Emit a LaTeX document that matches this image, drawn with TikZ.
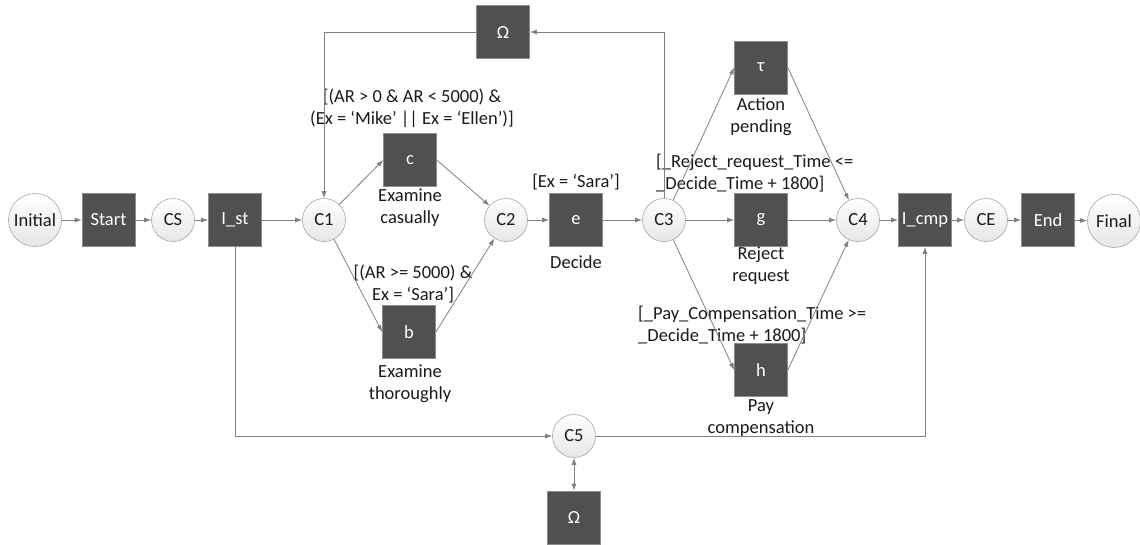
\documentclass[tikz,border=0pt]{standalone}
\usepackage{fontspec}
\setmainfont{Carlito}
\usetikzlibrary{arrows.meta}
\definecolor{boxfill}{HTML}{505050}
\definecolor{boxedge}{HTML}{8C8C8C}
\definecolor{circedge}{HTML}{A6A6A6}
\definecolor{circlow}{HTML}{E6E6E6}
\definecolor{arcgray}{HTML}{808080}
\definecolor{txt}{HTML}{1A1A1A}
\begin{document}
\begin{tikzpicture}[x=1pt,y=-1pt,
  every node/.style={font=\fontsize{18.5}{22}\selectfont},
  trans/.style={rectangle,fill=boxfill,draw=boxedge,line width=0.6pt,
    minimum width=53pt,minimum height=53pt,inner sep=0pt,text=white},
  place/.style={circle,draw=circedge,line width=0.6pt,top color=white,
    bottom color=circlow,minimum size=43pt,inner sep=0pt,text=txt},
  bigplace/.style={place,minimum size=53pt},
  lbl/.style={text=txt,align=center,inner sep=0pt},
  lbll/.style={text=txt,align=left,inner sep=0pt,anchor=west},
  arc/.style={draw=arcgray,line width=0.8pt,-{Latex[length=7pt,width=5pt]}},
  darc/.style={draw=arcgray,line width=0.8pt,{Latex[length=7pt,width=5pt]}-{Latex[length=7pt,width=5pt]}}
]
\useasboundingbox (0,0) rectangle (1140,544);

% main row
\node[bigplace] (init) at (35,220) {Initial};
\node[trans] (start) at (108.5,220) {Start};
\node[place] (cs) at (173,220) {CS};
\node[trans] (ist) at (235,220) {I\_st};
\node[place] (c1) at (324,220) {C1};
\node[trans] (c) at (410,160) {c};
\node[trans] (b) at (409,332) {b};
\node[place] (c2) at (506,220) {C2};
\node[trans] (e) at (576,220) {e};
\node[place] (c3) at (664,220) {C3};
\node[trans] (tau) at (761,67.5) {τ};
\node[trans] (g) at (761,220) {g};
\node[trans] (h) at (761,370) {h};
\node[place] (c4) at (858,220) {C4};
\node[trans] (icmp) at (925,220) {I\_cmp};
\node[place] (ce) at (986,220) {CE};
\node[trans] (end) at (1048,220) {End};
\node[bigplace] (final) at (1114,221) {Final};
\node[trans] (omtop) at (503,32) {Ω};
\node[place] (c5) at (574,436) {C5};
\node[trans] (ombot) at (574,517.5) {Ω};

% labels
\node[lbl] (lc) at (410,208) {Examine\\casually};
\node[lbl] (lb) at (410,384) {Examine\\thoroughly};
\node[lbl] (le) at (576,262) {Decide};
\node[lbl] (ltau) at (761,117) {Action\\pending};
\node[lbl] (lg) at (761,266) {Reject\\request};
\node[lbl] (lh) at (761,418) {Pay\\compensation};
\node[lbl] (gc) at (412,108) {[(AR > 0 \& AR < 5000) \&\\(Ex = ‘Mike’ || Ex = ‘Ellen’)]};
\node[lbl] (gb) at (413,284) {[(AR >= 5000) \&\\Ex = ‘Sara’]};
\node[lbl] (ge) at (576,182) {[Ex = ‘Sara’]};
\node[lbll] (gg) at (656,173) {[\_Reject\_request\_Time <=\\\_Decide\_Time + 1800]};
\node[lbll] (gh) at (638,325) {[\_Pay\_Compensation\_Time >=\\\_Decide\_Time + 1800]};

% arcs
\draw[arc] (init) -- (start);
\draw[arc] (start) -- (cs);
\draw[arc] (cs) -- (ist);
\draw[arc] (ist) -- (c1);
\draw[arc] (c1) -- (c.west);
\draw[arc] (c1) -- (b.west);
\draw[arc] (c.east) -- (c2);
\draw[arc] (b.east) -- (c2);
\draw[arc] (c2) -- (e);
\draw[arc] (e) -- (c3);
\draw[arc] (c3) -- (tau.west);
\draw[arc] (c3) -- (g);
\draw[arc] (c3) -- (h.west);
\draw[arc] (tau.east) -- (c4);
\draw[arc] (g) -- (c4);
\draw[arc] (h.east) -- (c4);
\draw[arc] (c4) -- (icmp);
\draw[arc] (icmp) -- (ce);
\draw[arc] (ce) -- (end);
\draw[arc] (end) -- (final);
\draw[arc] (omtop.west) -| (c1.north);
\draw[arc] (c3.north) |- (omtop.east);
\draw[arc] (ist.south) |- (c5.west);
\draw[arc] (c5.east) -| (icmp.south);
\draw[darc] (c5.south) -- (ombot.north);
\end{tikzpicture}
\end{document}
